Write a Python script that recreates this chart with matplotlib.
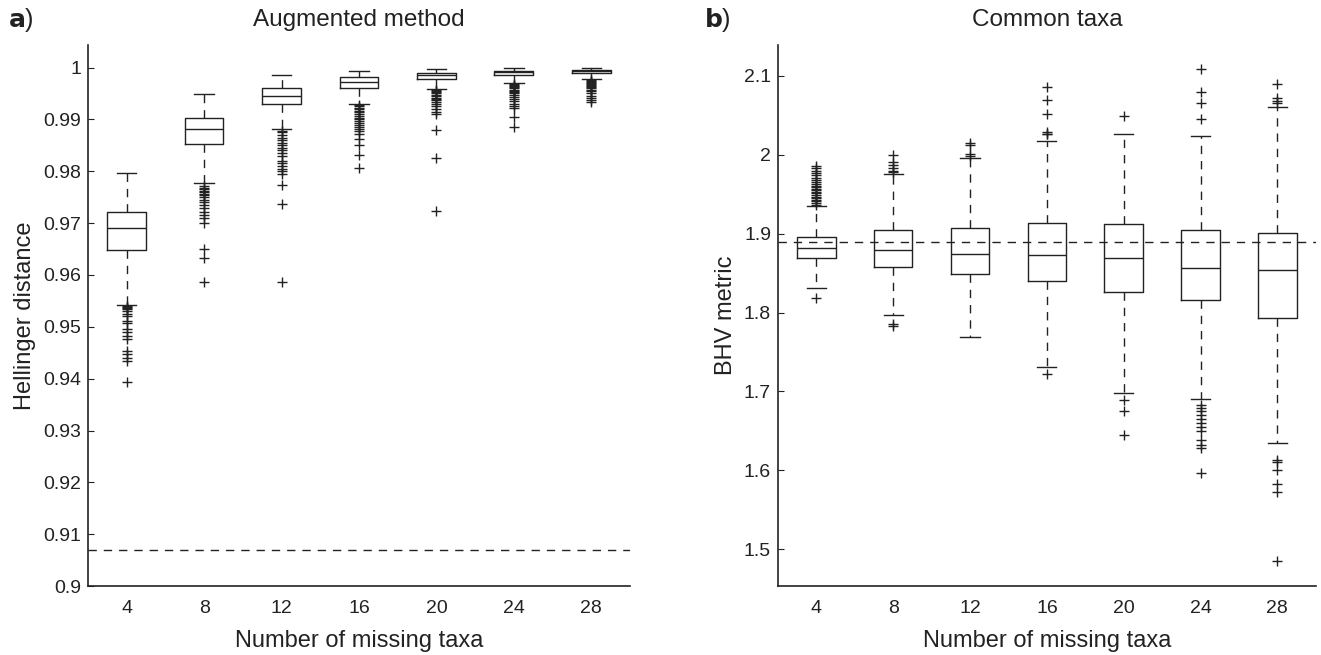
import matplotlib.pyplot as plt

plt.rcParams['font.family'] = ['Liberation Sans', 'DejaVu Sans']

# Number of missing taxa (box positions)
taxa = [4, 8, 12, 16, 20, 24, 28]

# Panel a: Augmented method (Hellinger distance)
a_whislo = [0.9543, 0.9777, 0.9881, 0.9930, 0.9959, 0.9971, 0.9977]
a_q1 = [0.9648, 0.9852, 0.9929, 0.9960, 0.9977, 0.9985, 0.9989]
a_med = [0.9690, 0.9881, 0.9946, 0.9973, 0.9985, 0.9991, 0.9993]
a_q3 = [0.9721, 0.9903, 0.9961, 0.9981, 0.9990, 0.9994, 0.9996]
a_whishi = [0.9797, 0.9949, 0.9986, 0.9994, 0.9998, 0.9999, 1.0000]
a_fliers = [
    [0.9541, 0.9539, 0.9537, 0.9535, 0.9530, 0.9524, 0.9520, 0.9511, 0.9508,
     0.9496, 0.9490, 0.9483, 0.9476, 0.9454, 0.9448, 0.9440, 0.9435, 0.9394],
    [0.9772, 0.9768, 0.9765, 0.9762, 0.9760, 0.9757, 0.9754, 0.9750, 0.9745,
     0.9740, 0.9735, 0.9730, 0.9722, 0.9715, 0.9710, 0.9700, 0.9650, 0.9632,
     0.9586],
    [0.9878, 0.9875, 0.9870, 0.9865, 0.9860, 0.9855, 0.9850, 0.9845, 0.9840,
     0.9835, 0.9830, 0.9820, 0.9815, 0.9810, 0.9805, 0.9800, 0.9795, 0.9773,
     0.9737, 0.9586],
    [0.9927, 0.9925, 0.9922, 0.9920, 0.9917, 0.9914, 0.9910, 0.9907, 0.9903,
     0.9900, 0.9897, 0.9893, 0.9890, 0.9886, 0.9882, 0.9877, 0.9872, 0.9863,
     0.9851, 0.9832, 0.9806],
    [0.9957, 0.9955, 0.9952, 0.9950, 0.9947, 0.9945, 0.9942, 0.9940, 0.9937,
     0.9934, 0.9930, 0.9925, 0.9920, 0.9915, 0.9910, 0.9879, 0.9825, 0.9723],
    [0.9969, 0.9967, 0.9965, 0.9962, 0.9960, 0.9957, 0.9955, 0.9952, 0.9950,
     0.9947, 0.9944, 0.9940, 0.9935, 0.9930, 0.9925, 0.9921, 0.9904, 0.9885],
    [0.9976, 0.9974, 0.9972, 0.9970, 0.9968, 0.9966, 0.9964, 0.9962, 0.9960,
     0.9957, 0.9954, 0.9950, 0.9946, 0.9942, 0.9938, 0.9934],
]
a_ref = 0.9069

# Panel b: Common taxa (BHV metric)
b_whislo = [1.8307, 1.7970, 1.7696, 1.7316, 1.6979, 1.6903, 1.6342]
b_q1 = [1.8687, 1.8577, 1.8484, 1.8396, 1.8256, 1.8160, 1.7937]
b_med = [1.8814, 1.8789, 1.8746, 1.8730, 1.8691, 1.8569, 1.8535]
b_q3 = [1.8962, 1.9051, 1.9076, 1.9140, 1.9127, 1.9042, 1.9013]
b_whishi = [1.9355, 1.9763, 1.9954, 2.0169, 2.0260, 2.0239, 2.0611]
b_fliers = [
    [1.8184, 1.937, 1.939, 1.941, 1.943, 1.945, 1.947, 1.949, 1.951, 1.953,
     1.955, 1.957, 1.959, 1.961, 1.963, 1.965, 1.968, 1.971, 1.974, 1.977,
     1.980, 1.983, 1.986],
    [1.7857, 1.7830, 1.978, 1.980, 1.983, 1.987, 1.991, 2.000],
    [1.999, 2.001, 2.013, 2.015],
    [1.7224, 2.026, 2.027, 2.029, 2.0518, 2.0695, 2.0865],
    [1.6895, 1.6747, 1.6451, 2.0493],
    [1.683, 1.679, 1.675, 1.670, 1.665, 1.660, 1.655, 1.6494, 1.639, 1.6325,
     1.6283, 1.5962, 2.0459, 2.0662, 2.0793, 2.1085],
    [1.6127, 1.6105, 1.601, 1.582, 1.5726, 1.4848, 2.0654, 2.0688, 2.0718,
     2.0899],
]
b_ref = 1.889


def make_stats(lo, q1, med, q3, hi, fl):
    return [dict(whislo=lo[i], q1=q1[i], med=med[i], q3=q3[i], whishi=hi[i],
                 fliers=fl[i]) for i in range(len(lo))]


fig = plt.figure(figsize=(13.21, 6.55), dpi=100)
ax1 = fig.add_axes([0.0666, 0.105, 0.4103, 0.826])
ax2 = fig.add_axes([0.5890, 0.105, 0.4070, 0.826])

panels = [
    (ax1, make_stats(a_whislo, a_q1, a_med, a_q3, a_whishi, a_fliers), a_ref,
     'Augmented method', 'Hellinger distance', (0.9, 1.0043),
     [0.9, 0.91, 0.92, 0.93, 0.94, 0.95, 0.96, 0.97, 0.98, 0.99, 1.0],
     ['0.9', '0.91', '0.92', '0.93', '0.94', '0.95', '0.96', '0.97', '0.98',
      '0.99', '1']),
    (ax2, make_stats(b_whislo, b_q1, b_med, b_q3, b_whishi, b_fliers), b_ref,
     'Common taxa', 'BHV metric', (1.453, 2.139),
     [1.5, 1.6, 1.7, 1.8, 1.9, 2.0, 2.1],
     ['1.5', '1.6', '1.7', '1.8', '1.9', '2', '2.1']),
]

for ax, stats, ref, title, ylab, ylim, yt, ytl in panels:
    ax.bxp(stats, positions=taxa, widths=2.0, showfliers=True,
           boxprops=dict(color='#222222', linewidth=1.0),
           medianprops=dict(color='#222222', linewidth=1.0),
           whiskerprops=dict(color='#222222', linewidth=1.0, linestyle=(0, (6, 5))),
           capprops=dict(color='#222222', linewidth=1.0),
           flierprops=dict(marker='+', markersize=7.5, markeredgecolor='#222222',
                           markeredgewidth=1.0, linestyle='none'))
    ax.axhline(ref, color='#222222', linewidth=1.0, linestyle=(0, (6, 5)))
    ax.set_xlim(2, 30)
    ax.set_ylim(*ylim)
    ax.set_xticks(taxa)
    ax.set_xticklabels([str(t) for t in taxa])
    ax.set_yticks(yt)
    ax.set_yticklabels(ytl)
    ax.tick_params(axis='x', length=0, pad=10, labelsize=14, colors='#222222')
    ax.tick_params(axis='y', direction='in', length=4, pad=5, labelsize=14,
                   colors='#222222')
    for s in ['top', 'right']:
        ax.spines[s].set_visible(False)
    for s in ['left', 'bottom']:
        ax.spines[s].set_color('#222222')
        ax.spines[s].set_linewidth(1.2)
    ax.set_title(title, fontsize=17.5, pad=14, color='#222222')
    ax.set_ylabel(ylab, fontsize=17, color='#222222', labelpad=5)
    ax.set_xlabel('Number of missing taxa', fontsize=17, color='#222222',
                  labelpad=9)

fig.text(0.006, 0.970, r'$\mathbf{a}$)', fontsize=18, va='center', color='#222222')
fig.text(0.533, 0.970, r'$\mathbf{b}$)', fontsize=18, va='center', color='#222222')

fig.savefig('out.png', dpi=100)
plt.close(fig)
